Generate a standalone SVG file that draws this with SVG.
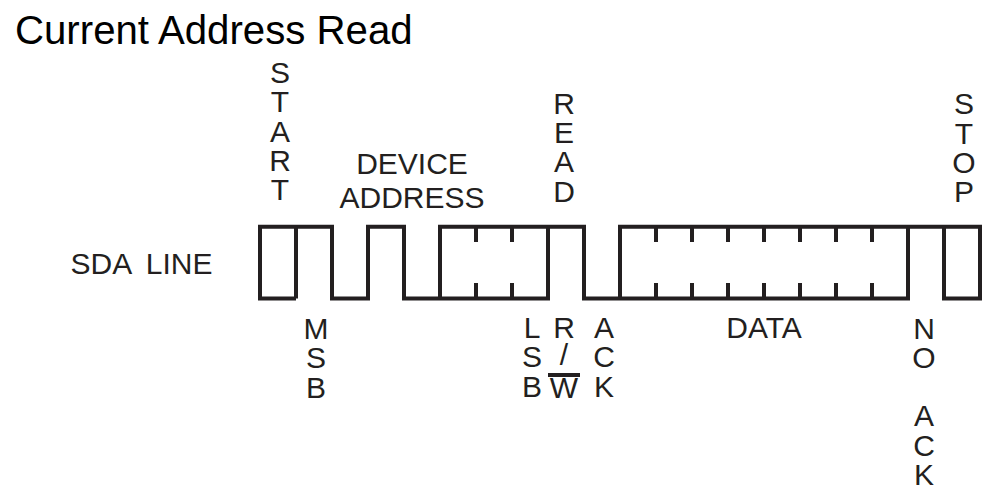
<svg xmlns="http://www.w3.org/2000/svg" width="990" height="498" viewBox="0 0 990 498">
<style>
text{font-family:"Liberation Sans",Arial,sans-serif;fill:#231f20;font-size:30px;text-anchor:middle}
.t{font-size:40.200px;text-anchor:start;fill:#000}
.w{fill:none;stroke:#231f20;stroke-width:4}
</style>
<rect width="990" height="498" fill="#fff"/>
<text class="t" x="15" y="44">Current Address Read</text>
<g id="waveform">
<path class="w" d="M296 298.500H260V226.700H332V298.500H368V226.700H404V298.500H548V226.700M296 226.700V298.500M440 298.500V226.700H584V298.500H620V226.700H980V298.500H944V226.700M620 298.500H908V226.700"/>
<path class="w" d="M476 227V242M476 283V298M512 227V242M512 283V298M656 227V242M656 283V298M692 227V242M692 283V298M728 227V242M728 283V298M764 227V242M764 283V298M800 227V242M800 283V298M836 227V242M836 283V298M872 227V242M872 283V298"/>
</g>
<g id="start"><text><tspan x="280" y="83">S</tspan><tspan x="280" y="112">T</tspan><tspan x="280" y="142">A</tspan><tspan x="280" y="171">R</tspan><tspan x="280" y="200">T</tspan></text></g>
<g id="device-address"><text x="412" y="174">DEVICE</text><text x="412" y="208">ADDRESS</text></g>
<g id="read"><text><tspan x="564" y="114">R</tspan><tspan x="564" y="143">E</tspan><tspan x="564" y="172">A</tspan><tspan x="564" y="202">D</tspan></text></g>
<g id="stop"><text><tspan x="964" y="114">S</tspan><tspan x="964" y="144">T</tspan><tspan x="964" y="173">O</tspan><tspan x="964" y="202">P</tspan></text></g>
<text id="sda-line" x="141.500" y="274" word-spacing="7">SDA LINE</text>
<g id="msb"><text><tspan x="316" y="339">M</tspan><tspan x="316" y="368">S</tspan><tspan x="316" y="398">B</tspan></text></g>
<g id="lsb"><text><tspan x="532" y="338">L</tspan><tspan x="532" y="367">S</tspan><tspan x="532" y="397">B</tspan></text></g>
<g id="rw"><text><tspan x="564" y="338">R</tspan><tspan x="564" y="365">/</tspan><tspan x="564" y="398">W</tspan></text><path d="M548 375H580" stroke="#231f20" stroke-width="4"/></g>
<g id="ack"><text><tspan x="604" y="338">A</tspan><tspan x="604" y="367">C</tspan><tspan x="604" y="397">K</tspan></text></g>
<text id="data" x="764" y="338">DATA</text>
<g id="no-ack"><text><tspan x="924" y="339">N</tspan><tspan x="924" y="368">O</tspan><tspan x="924" y="426">A</tspan><tspan x="924" y="456">C</tspan><tspan x="924" y="485">K</tspan></text></g>
</svg>
